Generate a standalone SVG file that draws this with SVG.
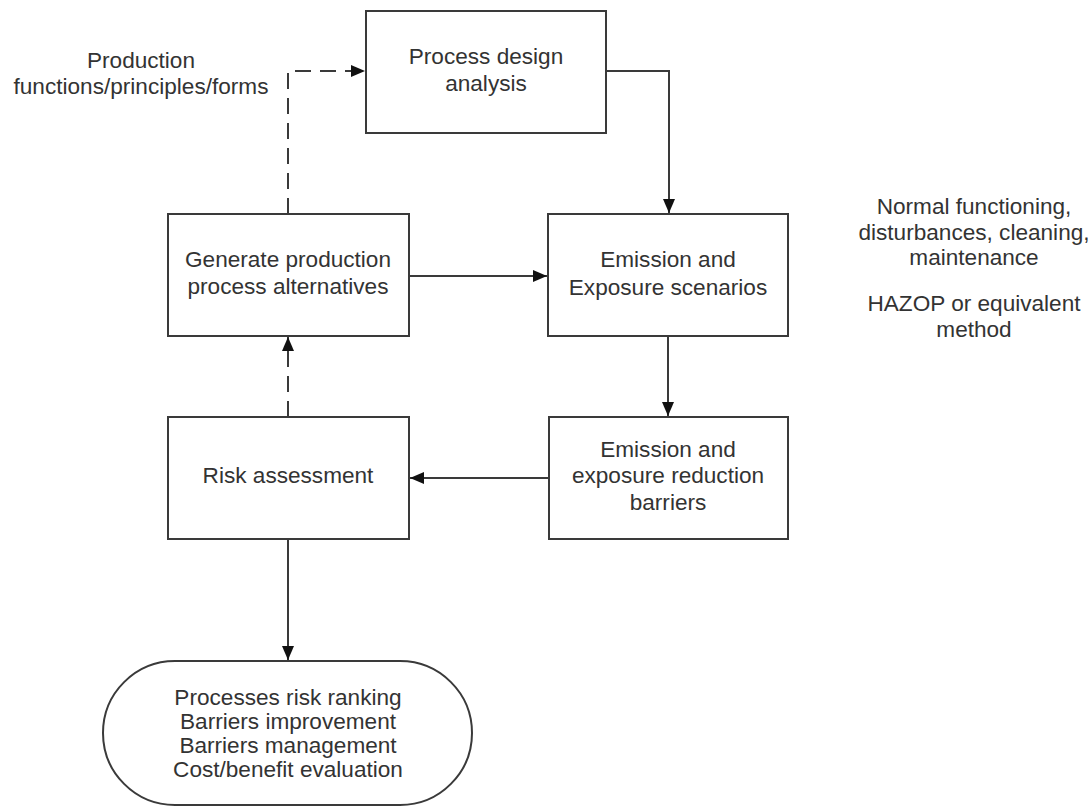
<svg xmlns="http://www.w3.org/2000/svg" width="1092" height="807" viewBox="0 0 1092 807">
  <style>
    .box { fill: #ffffff; stroke: #3a3a3a; stroke-width: 2; }
    .lbl { font-family: "Liberation Sans", Arial, sans-serif; font-size: 22.6px; fill: #333333; text-anchor: middle; }
    .wire { fill: none; stroke: #3a3a3a; stroke-width: 2; }
    .dash { stroke-dasharray: 16 9; }
  </style>
  <defs>
    <marker id="arrow" viewBox="0 0 14 12" refX="14" refY="6" markerWidth="14" markerHeight="12" markerUnits="userSpaceOnUse" orient="auto">
      <path d="M0,0 L14,6 L0,12 Z" fill="#111111"/>
    </marker>
  </defs>
  <rect width="1092" height="807" fill="#ffffff"/>

  <!-- connectors -->
  <g id="connectors">
    <path class="wire dash" d="M288,214 V71 H365" marker-end="url(#arrow)"/>
    <path class="wire" d="M606,71 H669 V213" marker-end="url(#arrow)"/>
    <path class="wire" d="M409,276 H547" marker-end="url(#arrow)"/>
    <path class="wire" d="M668,336 V416" marker-end="url(#arrow)"/>
    <path class="wire" d="M549,478 H410" marker-end="url(#arrow)"/>
    <path class="wire dash" d="M288,417 V337" marker-end="url(#arrow)"/>
    <path class="wire" d="M288,539 V660" marker-end="url(#arrow)"/>
  </g>

  <!-- free annotations -->
  <g id="note-production">
    <text class="lbl" x="141" y="68">Production</text>
    <text class="lbl" x="141" y="94">functions/principles/forms</text>
  </g>
  <g id="note-scenarios">
    <text class="lbl" x="974" y="214">Normal functioning,</text>
    <text class="lbl" x="974" y="240">disturbances, cleaning,</text>
    <text class="lbl" x="974" y="265">maintenance</text>
    <text class="lbl" x="974" y="311">HAZOP or equivalent</text>
    <text class="lbl" x="974" y="337">method</text>
  </g>

  <!-- nodes -->
  <g id="process-design">
    <rect class="box" x="366" y="11" width="240" height="122"/>
    <text class="lbl" x="486" y="64">Process design</text>
    <text class="lbl" x="486" y="91">analysis</text>
  </g>
  <g id="generate-alternatives">
    <rect class="box" x="168" y="214" width="241" height="122"/>
    <text class="lbl" x="288" y="267">Generate production</text>
    <text class="lbl" x="288" y="294">process alternatives</text>
  </g>
  <g id="emission-scenarios">
    <rect class="box" x="548" y="214" width="240" height="122"/>
    <text class="lbl" x="668" y="267">Emission and</text>
    <text class="lbl" x="668" y="295">Exposure scenarios</text>
  </g>
  <g id="reduction-barriers">
    <rect class="box" x="549" y="417" width="239" height="122"/>
    <text class="lbl" x="668" y="457">Emission and</text>
    <text class="lbl" x="668" y="483">exposure reduction</text>
    <text class="lbl" x="668" y="510">barriers</text>
  </g>
  <g id="risk-assessment">
    <rect class="box" x="168" y="417" width="241" height="122"/>
    <text class="lbl" x="288" y="483">Risk assessment</text>
  </g>
  <g id="outcomes">
    <rect class="box" x="103" y="661" width="369" height="144" rx="72" ry="72"/>
    <text class="lbl" x="288" y="705">Processes risk ranking</text>
    <text class="lbl" x="288" y="729">Barriers improvement</text>
    <text class="lbl" x="288" y="753">Barriers management</text>
    <text class="lbl" x="288" y="777">Cost/benefit evaluation</text>
  </g>
</svg>
